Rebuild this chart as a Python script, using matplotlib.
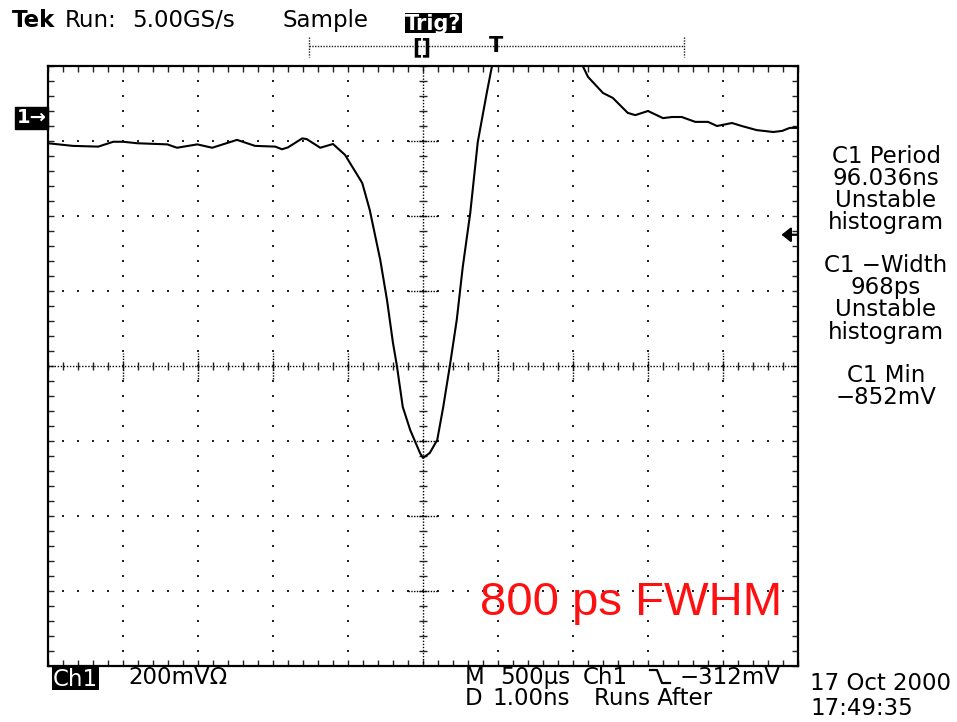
import numpy as np
import matplotlib.pyplot as plt
from matplotlib.patches import Rectangle
from matplotlib.lines import Line2D
from matplotlib.ticker import MultipleLocator, FixedLocator

W, H = 957, 722

# scope settings
ns_per_div = 1.0
mv_per_div = 200.0
ground_div = 3.31      # Ch1 ground marker, divisions above screen centre
trig_level_mv = -312

# Ch1 trace (ns from centre, mV); nan = trace runs off the top
time_ns = [-5.00, -4.67, -4.33, -4.13, -4.00, -3.81, -3.41, -3.28, -3.01, -2.81,
           -2.48, -2.24, -1.97, -1.88, -1.80, -1.61, -1.55, -1.37, -1.20, -1.04,
           -0.81, -0.71, -0.57, -0.48, -0.40, -0.35, -0.27, -0.17, -0.04, 0.00,
           0.09, 0.19, 0.27, 0.36, 0.45, 0.53, 0.63, 0.73, 0.85, 0.92,
           np.nan,
           2.13, 2.20, 2.40, 2.53, 2.73, 2.83, 3.00, 3.20, 3.32, 3.45,
           3.63, 3.80, 3.92, 4.12, 4.25, 4.45, 4.67, 4.79, 4.89, 4.99]
volt_mv = [-68, -75, -77, -64, -64, -68, -71, -80, -71, -80,
           -59, -75, -77, -84, -79, -55, -57, -80, -70, -99,
           -174, -246, -379, -486, -601, -659, -771, -833, -894, -907,
           -894, -859, -771, -659, -539, -398, -254, -65, 66, 138,
           np.nan,
           138, 109, 66, 53, 13, 7, 18, -1, 2, 2,
           -11, -11, -22, -14, -22, -33, -38, -35, -27, -27]

top_line = [("Run:", 65), ("5.00GS/s", 132), ("Sample", 282)]
meas_lines = ["C1 Period", "96.036ns", "Unstable", "histogram",
              "C1 \u2212Width", "968ps", "Unstable", "histogram",
              "C1 Min", "\u2212852mV"]
meas_base = [163, 185, 207, 229, 272, 294, 316, 339, 382, 404]
bottom_line1 = [("200mV\u03a9", 128), ("M", 465), ("500\u00b5s", 500), ("Ch1", 583), ("\u2212312mV", 680)]
bottom_line2 = [("D", 465), ("1.00ns", 492), ("Runs After", 594)]
date_str, time_str = "17 Oct 2000", "17:49:35"
note = "800 ps FWHM"


def fx(x):
    return x / W


def fy(y):
    return 1 - y / H


def ymv(d):
    return (np.asarray(d) - ground_div) * mv_per_div


fig = plt.figure(figsize=(W / 100, H / 100), dpi=100)
fig.patch.set_facecolor('white')
ax = fig.add_axes([fx(48), fy(666), 750 / W, 600 / H])
ax.set_xlim(-5 * ns_per_div, 5 * ns_per_div)
ax.set_ylim(ymv(-4), ymv(4))

# graticule: dotted division lines
fine_x = np.arange(-5, 5.001, 0.2) * ns_per_div
fine_y = np.arange(-4, 4.001, 0.2)
dot = dict(ls='none', marker='s', ms=1.5, mew=0, color='#222222')
for k in range(-4, 5):
    if k == 0:
        continue
    ax.plot(np.full(fine_y.size, k * ns_per_div), ymv(fine_y), **dot)
for d in range(-3, 4):
    if d == 0:
        continue
    ax.plot(fine_x, np.full(fine_x.size, ymv(d)), **dot)

# centre cross with small ticks
ax.plot([-5, 5], [ymv(0), ymv(0)], ls=(0, (1, 1.2)), lw=1, color='k')
ax.plot([0, 0], [ymv(-4), ymv(4)], ls=(0, (1, 1.2)), lw=1, color='k')
ax.plot(fine_x, np.full(fine_x.size, ymv(0)), ls='none', marker='|', ms=6, mew=1, color='#222222')
ax.plot(np.zeros(fine_y.size), ymv(fine_y), ls='none', marker='_', ms=6, mew=1, color='#222222')
for k in range(-4, 5):
    if k != 0:
        ax.plot([k, k], [ymv(-0.17), ymv(0.17)], ls=(0, (1, 1)), lw=1, color='k')
for d in range(-3, 4):
    if d != 0:
        ax.plot([-0.2, 0.2], [ymv(d), ymv(d)], ls=(0, (1, 1)), lw=1, color='k')

# trace
ax.plot(time_ns, volt_mv, color='black', lw=1.5, solid_joinstyle='round')

# frame ticks
ax.xaxis.set_major_locator(MultipleLocator(ns_per_div))
ax.xaxis.set_minor_locator(MultipleLocator(0.2 * ns_per_div))
ax.yaxis.set_major_locator(FixedLocator(ymv(np.arange(-4, 5))))
ax.yaxis.set_minor_locator(FixedLocator(ymv(fine_y)))
ax.tick_params(which='both', direction='in', top=True, right=True, length=4, width=1,
               color='#222222', labelbottom=False, labelleft=False)
for sp in ax.spines.values():
    sp.set_linewidth(1.6)

# trigger level arrow on the right edge
ax.annotate('', xy=(0.978, trig_level_mv), xycoords=ax.get_yaxis_transform(),
            xytext=(0.999, trig_level_mv), textcoords=ax.get_yaxis_transform(),
            arrowprops=dict(arrowstyle='-|>,head_length=0.5,head_width=0.4', color='k',
                            lw=1.6, mutation_scale=11, shrinkA=0, shrinkB=0))

# ground marker
ax.text(-0.022, 0, '1\u2192', transform=ax.get_yaxis_transform(), ha='center', va='center',
        color='white', fontsize=14, fontweight='bold', clip_on=False,
        bbox=dict(boxstyle='square,pad=0.08', fc='black', ec='black'))

font = dict(family='DejaVu Sans', fontsize=16.5, va='baseline', color='black')

# header
fig.text(fx(12), fy(27), 'Tek', fontweight='bold', **font)
for s, x in top_line:
    fig.text(fx(x), fy(27), s, **font)
fig.patches.append(Rectangle((fx(405), fy(33)), 57 / W, 20 / H, transform=fig.transFigure,
                             fc='black', ec='none'))
fig.text(fx(433.5), fy(30), 'Trig?', ha='center', va='baseline', fontsize=15,
         fontweight='bold', color='white')

# record-length bar
fig.add_artist(Line2D([fx(309), fx(684)], [fy(46), fy(46)], transform=fig.transFigure,
                      ls=(0, (1, 1)), lw=1, color='#222222'))
for x in (309, 684):
    fig.add_artist(Line2D([fx(x), fx(x)], [fy(37), fy(57)], transform=fig.transFigure,
                          ls=(0, (1, 1)), lw=1, color='#222222'))
fig.text(fx(422), fy(47), '[]', ha='center', va='center', fontsize=15, fontweight='bold')
fig.text(fx(496), fy(46), 'T', ha='center', va='center', fontsize=15, fontweight='bold')

# measurements
for s, b in zip(meas_lines, meas_base):
    fig.text(fx(886), fy(b), s, ha='center', family='DejaVu Sans', fontsize=16.5,
             va='baseline')

# footer
fig.patches.append(Rectangle((fx(52), fy(690)), 47 / W, 23 / H, transform=fig.transFigure,
                             fc='black', ec='none'))
fig.text(fx(75.5), fy(686), 'Ch1', ha='center', va='baseline', fontsize=16.5, color='white')
for s, x in bottom_line1:
    fig.text(fx(x), fy(684), s, **font)
for s, x in bottom_line2:
    fig.text(fx(x), fy(705), s, **font)
fig.add_artist(Line2D([fx(650), fx(657), fx(662), fx(670)], [fy(670), fy(670), fy(683), fy(683)],
                      transform=fig.transFigure, lw=1.6, color='black'))
fig.text(fx(810), fy(690), date_str, **font)
fig.text(fx(810), fy(715), time_str, **font)

# annotation
fig.text(fx(782), fy(615), note, ha='right', va='baseline', family='Liberation Sans',
         fontsize=34, color='#ff1010')

fig.savefig('out.png', dpi=100, facecolor='white')
